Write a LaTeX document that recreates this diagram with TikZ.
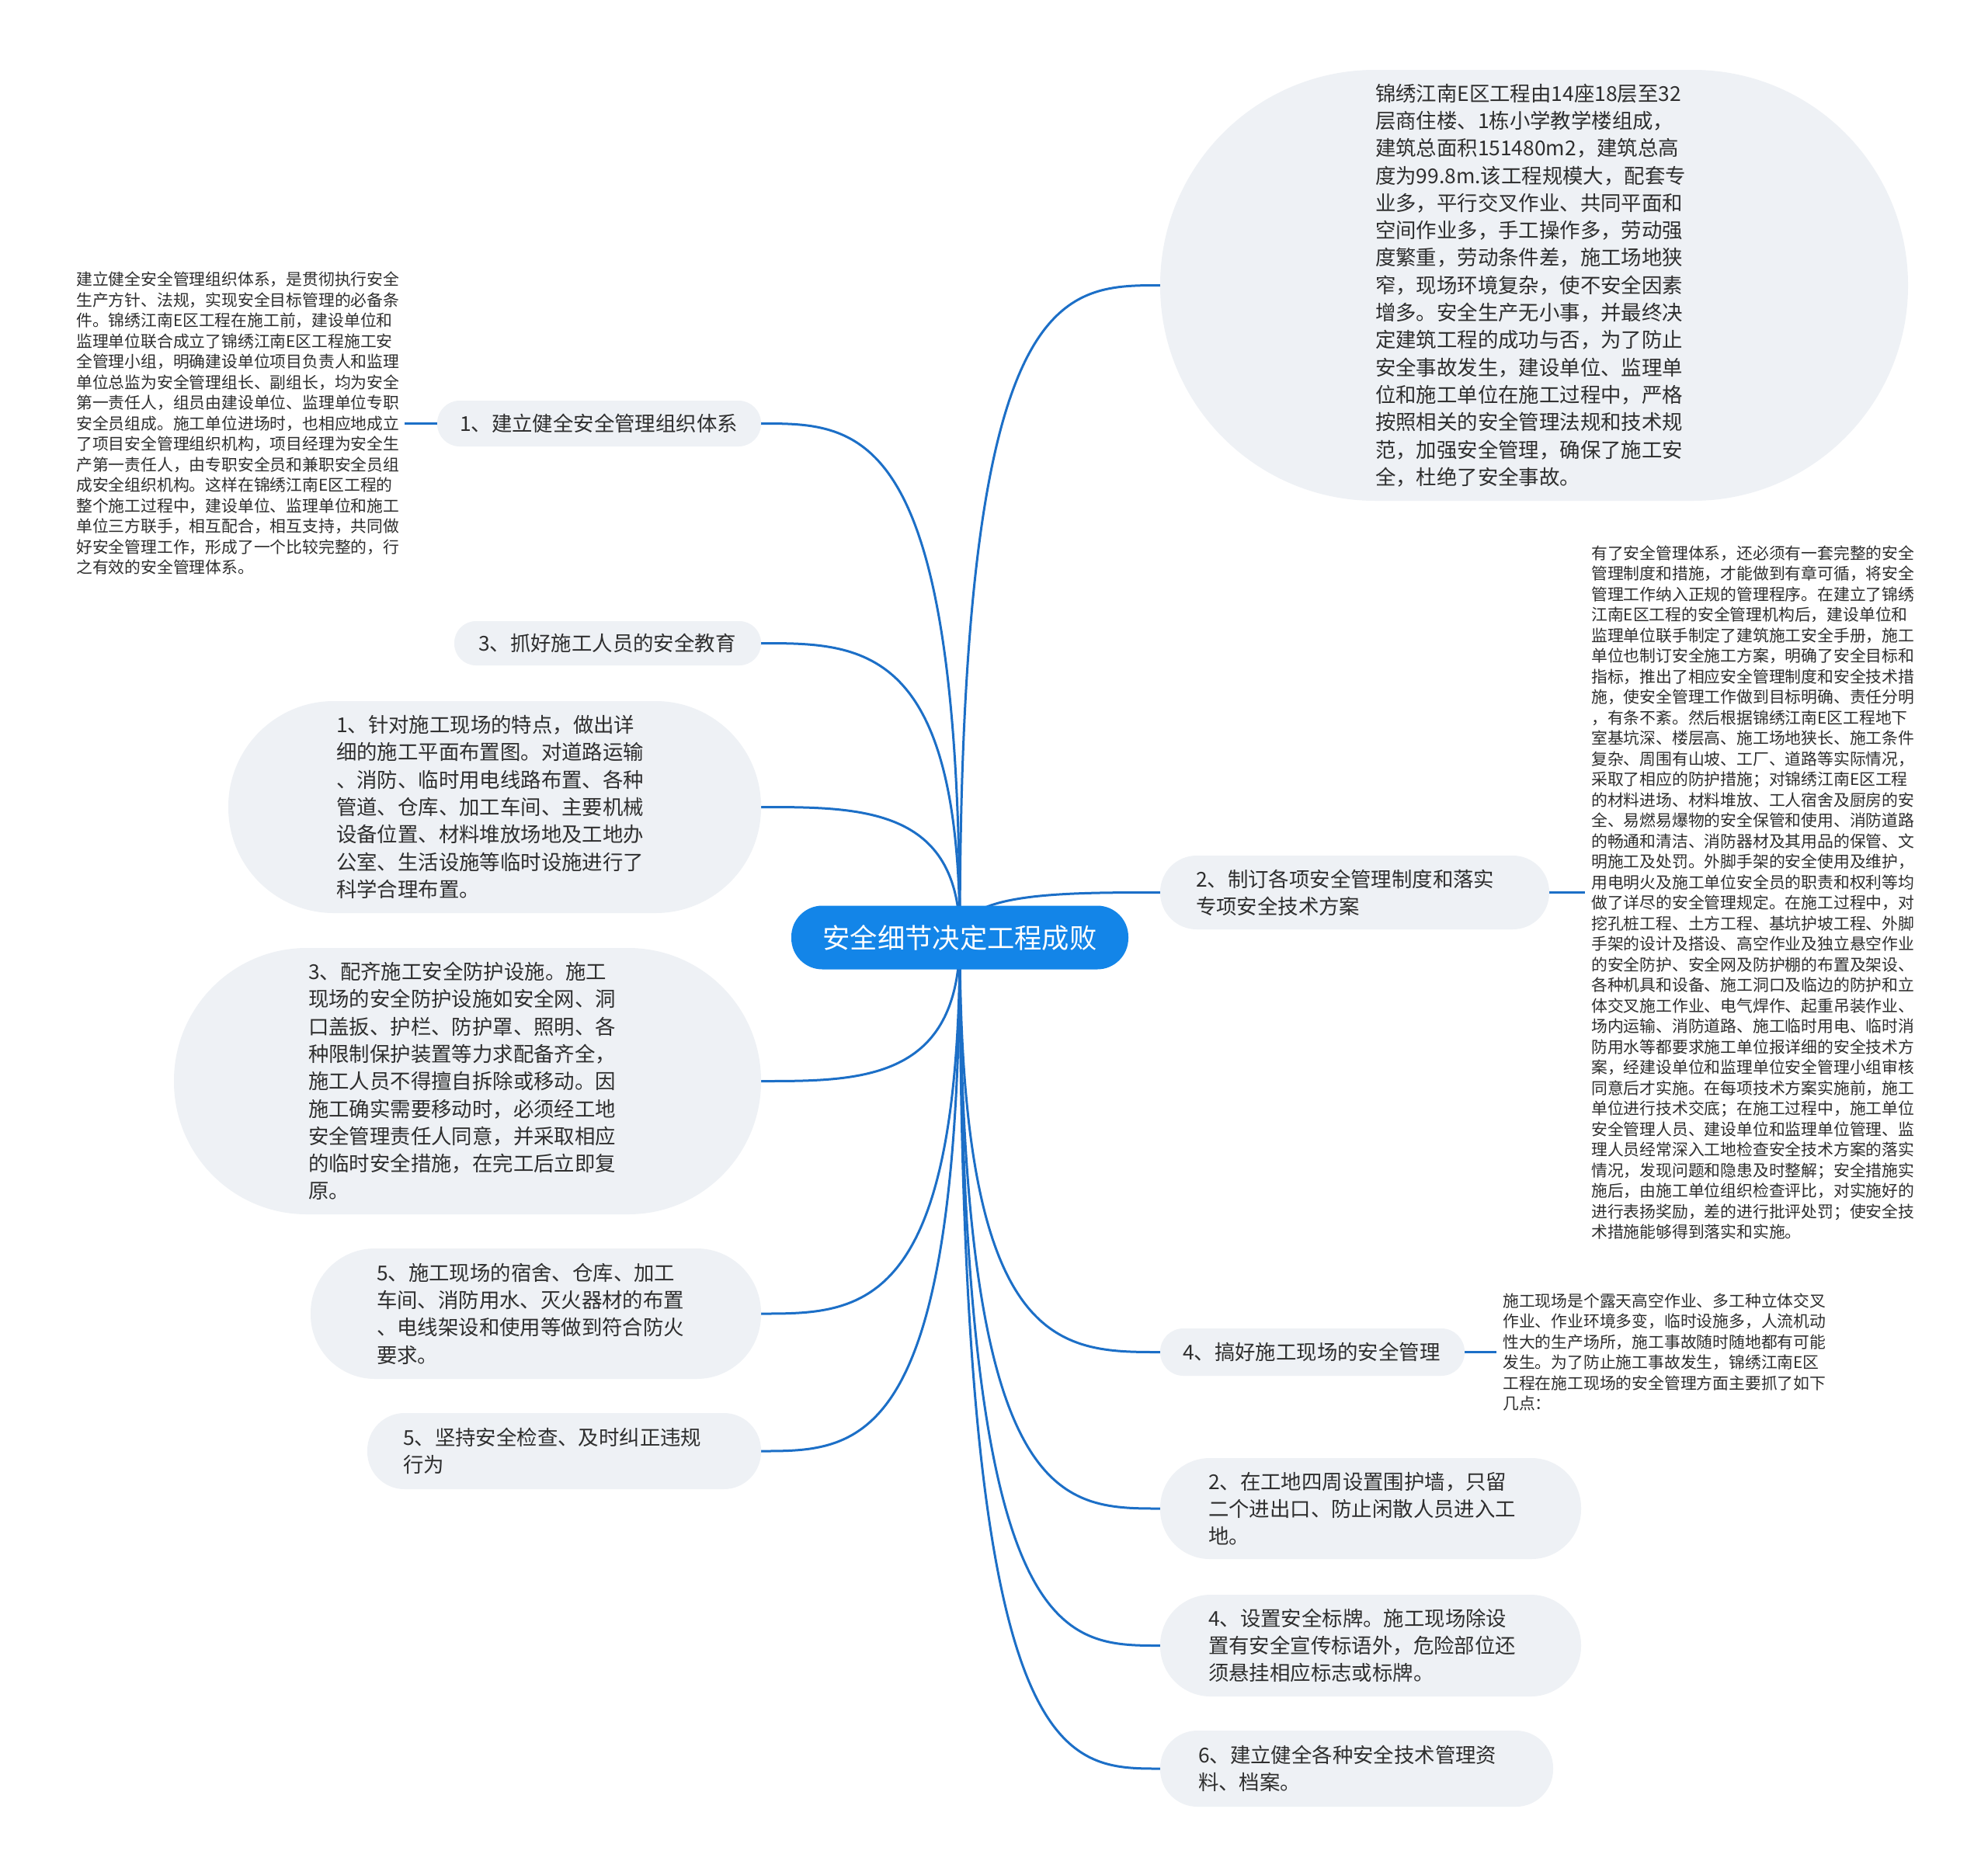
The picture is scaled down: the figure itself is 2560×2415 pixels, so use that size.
\documentclass[tikz,border=0pt]{standalone}
\usepackage{fontspec}
\setmainfont{Noto Sans CJK SC}
\usetikzlibrary{calc,backgrounds}
\definecolor{cblue}{HTML}{1385E8}
\definecolor{lblue}{HTML}{1C6FC7}
\definecolor{pillc}{HTML}{EEF1F5}
\definecolor{txt}{HTML}{2E2E2E}
\tikzset{
  pill/.style={fill=pillc, text=txt, font=\fontsize{26.4}{35.3}\selectfont, align=left, inner xsep=0pt, inner ysep=0pt},
  smalltext/.style={text=txt, font=\fontsize{20.8}{26.5}\selectfont, align=left, text width=420pt, inner ysep=0pt, anchor=west},
  conn/.style={draw=lblue, line width=3pt},
  rootnode/.style={fill=cblue, text=white, font=\fontsize{35.3}{40}\selectfont, minimum width=434pt, minimum height=82pt, rounded corners=40pt, inner sep=0pt}
}
\begin{document}
\begin{tikzpicture}[x=1pt,y=-1pt]
\useasboundingbox (0,0) rectangle (2560,2415);

% root
\node[rootnode] (c) at (1236,1207.5) {安全细节决定工程成败};

% left children
\node[pill, minimum width=417pt, minimum height=59pt, rounded corners=29pt, text width=359pt] (L1) at (771.5,545.5) {1、建立健全安全管理组织体系};
\node[pill, minimum width=395pt, minimum height=57pt, rounded corners=28pt, text width=333pt] (L2) at (782.5,828.5) {3、抓好施工人员的安全教育};
\node[pill, minimum width=686pt, minimum height=273pt, rounded corners=136pt, text width=408pt] (L3) at (637,1039.5) {1、针对施工现场的特点，做出详\\细的施工平面布置图。对道路运输\\、消防、临时用电线路布置、各种\\管道、仓库、加工车间、主要机械\\设备位置、材料堆放场地及工地办\\公室、生活设施等临时设施进行了\\科学合理布置。};
\node[pill, minimum width=756pt, minimum height=343pt, rounded corners=171pt, text width=410pt] (L4) at (602,1392.5) {3、配齐施工安全防护设施。施工\\现场的安全防护设施如安全网、洞\\口盖扳、护栏、防护罩、照明、各\\种限制保护装置等力求配备齐全，\\施工人员不得擅自拆除或移动。因\\施工确实需要移动时，必须经工地\\安全管理责任人同意，并采取相应\\的临时安全措施，在完工后立即复\\原。};
\node[pill, minimum width=580pt, minimum height=168pt, rounded corners=83pt, text width=410pt] (L5) at (690,1692) {5、施工现场的宿舍、仓库、加工\\车间、消防用水、灭火器材的布置\\、电线架设和使用等做到符合防火\\要求。};
\node[pill, minimum width=507pt, minimum height=98pt, rounded corners=48pt, text width=415pt] (L6) at (726.5,1869) {5、坚持安全检查、及时纠正违规\\行为};

% right children
\node[pill, minimum width=963pt, minimum height=555pt, rounded corners=277pt, text width=409pt] (R1) at (1975.5,367.5) {锦绣江南E区工程由14座18层至32\\层商住楼、1栋小学教学楼组成，\\建筑总面积151480m2，建筑总高\\度为99.8m.该工程规模大，配套专\\业多，平行交叉作业、共同平面和\\空间作业多，手工操作多，劳动强\\度繁重，劳动条件差，施工场地狭\\窄，现场环境复杂，使不安全因素\\增多。安全生产无小事，并最终决\\定建筑工程的成功与否，为了防止\\安全事故发生，建设单位、监理单\\位和施工单位在施工过程中，严格\\按照相关的安全管理法规和技术规\\范，加强安全管理，确保了施工安\\全，杜绝了安全事故。};
\node[pill, minimum width=501pt, minimum height=95pt, rounded corners=47pt, text width=409pt] (R2) at (1744.5,1149.5) {2、制订各项安全管理制度和落实\\专项安全技术方案};
\node[pill, minimum width=392pt, minimum height=61pt, rounded corners=30pt, text width=334pt] (R3) at (1690,1741.5) {4、搞好施工现场的安全管理};
\node[pill, minimum width=542pt, minimum height=130pt, rounded corners=64pt, text width=418pt] (R4) at (1765,1943) {2、在工地四周设置围护墙，只留\\二个进出口、防止闲散人员进入工\\地。};
\node[pill, minimum width=542pt, minimum height=131pt, rounded corners=65pt, text width=418pt] (R5) at (1765,2119.5) {4、设置安全标牌。施工现场除设\\置有安全宣传标语外，危险部位还\\须悬挂相应标志或标牌。};
\node[pill, minimum width=506pt, minimum height=98pt, rounded corners=48pt, text width=408pt] (R6) at (1747,2278) {6、建立健全各种安全技术管理资\\料、档案。};

% detail texts
\node[smalltext, inner xsep=3pt] (T1) at (95,545.5) {建立健全安全管理组织体系，是贯彻执行安全\\生产方针、法规，实现安全目标管理的必备条\\件。锦绣江南E区工程在施工前，建设单位和\\监理单位联合成立了锦绣江南E区工程施工安\\全管理小组，明确建设单位项目负责人和监理\\单位总监为安全管理组长、副组长，均为安全\\第一责任人，组员由建设单位、监理单位专职\\安全员组成。施工单位进场时，也相应地成立\\了项目安全管理组织机构，项目经理为安全生\\产第一责任人，由专职安全员和兼职安全员组\\成安全组织机构。这样在锦绣江南E区工程的\\整个施工过程中，建设单位、监理单位和施工\\单位三方联手，相互配合，相互支持，共同做\\好安全管理工作，形成了一个比较完整的，行\\之有效的安全管理体系。};
\node[smalltext, inner xsep=8pt] (T2) at (2041,1149.5) {有了安全管理体系，还必须有一套完整的安全\\管理制度和措施，才能做到有章可循，将安全\\管理工作纳入正规的管理程序。在建立了锦绣\\江南E区工程的安全管理机构后，建设单位和\\监理单位联手制定了建筑施工安全手册，施工\\单位也制订安全施工方案，明确了安全目标和\\指标，推出了相应安全管理制度和安全技术措\\施，使安全管理工作做到目标明确、责任分明\\，有条不紊。然后根据锦绣江南E区工程地下\\室基坑深、楼层高、施工场地狭长、施工条件\\复杂、周围有山坡、工厂、道路等实际情况，\\采取了相应的防护措施；对锦绣江南E区工程\\的材料进场、材料堆放、工人宿舍及厨房的安\\全、易燃易爆物的安全保管和使用、消防道路\\的畅通和清洁、消防器材及其用品的保管、文\\明施工及处罚。外脚手架的安全使用及维护，\\用电明火及施工单位安全员的职责和权利等均\\做了详尽的安全管理规定。在施工过程中，对\\挖孔桩工程、土方工程、基坑护坡工程、外脚\\手架的设计及搭设、高空作业及独立悬空作业\\的安全防护、安全网及防护棚的布置及架设、\\各种机具和设备、施工洞口及临边的防护和立\\体交叉施工作业、电气焊作、起重吊装作业、\\场内运输、消防道路、施工临时用电、临时消\\防用水等都要求施工单位报详细的安全技术方\\案，经建设单位和监理单位安全管理小组审核\\同意后才实施。在每项技术方案实施前，施工\\单位进行技术交底；在施工过程中，施工单位\\安全管理人员、建设单位和监理单位管理、监\\理人员经常深入工地检查安全技术方案的落实\\情况，发现问题和隐患及时整解；安全措施实\\施后，由施工单位组织检查评比，对实施好的\\进行表扬奖励，差的进行批评处罚；使安全技\\术措施能够得到落实和实施。};
\node[smalltext, inner xsep=8pt] (T3) at (1927,1741.5) {施工现场是个露天高空作业、多工种立体交叉\\作业、作业环境多变，临时设施多，人流机动\\性大的生产场所，施工事故随时随地都有可能\\发生。为了防止施工事故发生，锦绣江南E区\\工程在施工现场的安全管理方面主要抓了如下\\几点：};

% background and connectors
\begin{scope}[on background layer]
\fill[white] (0,0) rectangle (2560,2415);
\foreach \n in {L1,L2,L3,L4,L5,L6}{
  \draw[conn] (c.center) .. controls (c.center |- \n.east) and ($(c.center |- \n.east)!0.5!(\n.east)$) .. (\n.east);
}
\foreach \n in {R1,R2,R3,R4,R5,R6}{
  \draw[conn] (c.center) .. controls (c.center |- \n.west) and ($(c.center |- \n.west)!0.5!(\n.west)$) .. (\n.west);
}
\draw[conn] (L1.west) -- (T1.east);
\draw[conn] (R2.east) -- (T2.west);
\draw[conn] (R3.east) -- (T3.west);
\end{scope}
\end{tikzpicture}
\end{document}
